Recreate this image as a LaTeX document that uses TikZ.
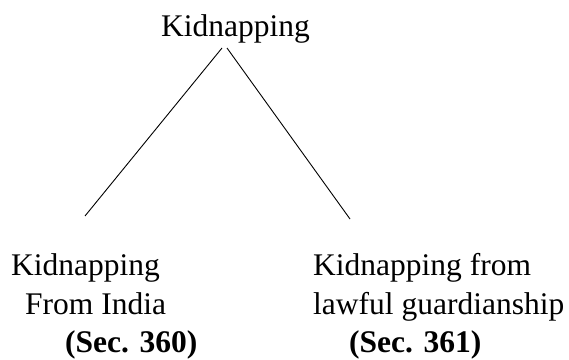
\documentclass[tikz,border=0pt]{standalone}
\usepackage{fontspec}
\setmainfont{Liberation Serif}
\begin{document}
\begin{tikzpicture}[x=1pt,y=1pt,
  lbl/.style={anchor=base west,inner sep=0pt,font=\fontsize{31.5}{36}\selectfont},
  branch/.style={line width=0.9pt,black}]
\useasboundingbox (0,0) rectangle (569,359);
\node[lbl] (root) at (161,322) {Kidnapping};
\node[lbl] (l1) at (11,84) {Kidnapping};
\node[lbl] (l2) at (25,45) {From India};
\node[lbl,font=\fontsize{31.5}{36}\selectfont\bfseries] (l3) at (65,7) {(Sec. 360)};
\node[lbl] (r1) at (313,84) {Kidnapping from};
\node[lbl] (r2) at (313,45) {lawful guardianship};
\node[lbl,font=\fontsize{31.5}{36}\selectfont\bfseries] (r3) at (349,7) {(Sec. 361)};
\coordinate (apexL) at (222,311);
\coordinate (apexR) at (227,311);
\coordinate (endL) at (85,143);
\coordinate (endR) at (350,140);
\draw[branch] (apexL) -- (endL);
\draw[branch] (apexR) -- (endR);
\end{tikzpicture}
\end{document}
